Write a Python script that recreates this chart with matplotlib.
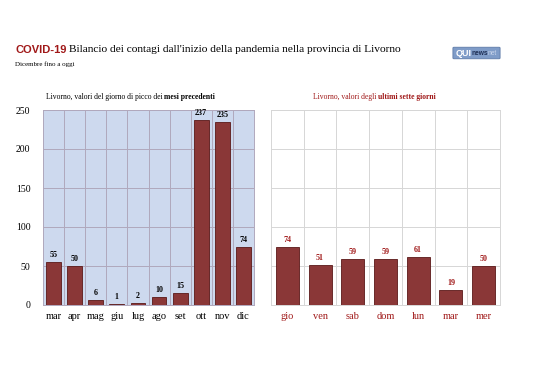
import matplotlib.pyplot as plt
from matplotlib.patches import FancyBboxPatch

# --- data ---
mesi = ['mar', 'apr', 'mag', 'giu', 'lug', 'ago', 'set', 'ott', 'nov', 'dic']
picco_mesi = [55, 50, 6, 1, 2, 10, 15, 237, 235, 74]

giorni = ['gio', 'ven', 'sab', 'dom', 'lun', 'mar', 'mer']
ultimi_giorni = [74, 51, 59, 59, 61, 19, 50]

yticks = [0, 50, 100, 150, 200, 250]

BAR = '#8a3737'
EDGE = '#5a1818'
RED = '#a01818'
SERIF = 'Liberation Serif'

fig = plt.figure(figsize=(5.38, 3.8), dpi=100)
fig.patch.set_facecolor('white')

# --- titles ---
fig.text(15 / 538, 1 - 50 / 380, 'COVID-19', color=RED, fontsize=8,
         fontweight='bold', family='Liberation Sans', va='center')
fig.text(69 / 538, 1 - 50 / 380, 'Bilancio dei contagi dall\'inizio della pandemia nella provincia di Livorno',
         fontsize=8.2, family=SERIF, va='center')
fig.text(15 / 538, 1 - 64 / 380, 'Dicembre fino a oggi', fontsize=5, family=SERIF, va='center')

# logo
logo = FancyBboxPatch((454 / 538, 1 - 58 / 380), 45 / 538, 10 / 380,
                      boxstyle='round,pad=0.002', transform=fig.transFigure,
                      facecolor='#7f9cc8', edgecolor='#5d7aa8', lw=0.6)
fig.add_artist(logo)
fig.text(456 / 538, 1 - 53 / 380, 'QUI', color='white', fontsize=6.5, fontweight='bold',
         family='Liberation Sans', va='center')
fig.text(471 / 538, 1 - 53.5 / 380, 'news', color='#1e2f55', fontsize=4.8, fontweight='bold',
         family='Liberation Sans', va='center')
fig.text(488 / 538, 1 - 53.5 / 380, 'net', color='#c8d4ea', fontsize=4.8,
         family='Liberation Sans', va='center')

# panel titles
fig.text(164 / 538, 1 - 97 / 380, 'Livorno, valori del giorno di picco dei ', fontsize=5.5,
         family=SERIF, ha='right', va='center')
fig.text(164 / 538, 1 - 97 / 380, 'mesi precedenti', fontsize=5.5, fontweight='bold',
         family=SERIF, ha='left', va='center')
fig.text(378 / 538, 1 - 97 / 380, 'Livorno, valori degli ', fontsize=5.5, color=RED,
         family=SERIF, ha='right', va='center')
fig.text(378 / 538, 1 - 97 / 380, 'ultimi sette giorni', fontsize=5.5, color=RED,
         fontweight='bold', family=SERIF, ha='left', va='center')


def setup(ax, n, face, gridcol):
    ax.set_facecolor(face)
    ax.set_xlim(-0.5, n - 0.5)
    ax.set_ylim(0, 250)
    ax.set_yticks(yticks)
    for y in yticks[1:]:
        ax.axhline(y, color=gridcol, lw=0.7, zorder=0)
    for i in range(n - 1):
        ax.axvline(i + 0.5, color=gridcol, lw=0.7, zorder=0)
    for s in ax.spines.values():
        s.set_color(gridcol)
        s.set_linewidth(0.7)
    ax.tick_params(axis='x', length=0, pad=5)


# --- left panel ---
ax1 = fig.add_axes([43 / 538, 1 - 305 / 380, 211 / 538, 195 / 380])
setup(ax1, len(mesi), '#cdd9ee', '#b0a8bc')
ax1.bar(range(len(mesi)), picco_mesi, width=0.7, color=BAR, edgecolor=EDGE, lw=0.6, zorder=2)
ax1.set_xticks(range(len(mesi)))
ax1.set_xticklabels(mesi, family=SERIF, fontsize=7.5)
ax1.tick_params(axis='y', length=0, labelsize=7, pad=9)
for lbl in ax1.get_yticklabels():
    lbl.set_family(SERIF)
for i, v in enumerate(picco_mesi):
    ax1.text(i, v + 4, str(v), ha='center', va='bottom', fontsize=5.8,
             fontweight='bold', family=SERIF)

# --- right panel ---
ax2 = fig.add_axes([271 / 538, 1 - 305 / 380, 229 / 538, 195 / 380])
setup(ax2, len(giorni), 'white', '#d6d6d6')
ax2.bar(range(len(giorni)), ultimi_giorni, width=0.7, color=BAR, edgecolor=EDGE, lw=0.6, zorder=2)
ax2.set_xticks(range(len(giorni)))
ax2.set_xticklabels(giorni, family=SERIF, fontsize=7.5, color=RED)
ax2.tick_params(axis='y', length=0, labelleft=False)
for i, v in enumerate(ultimi_giorni):
    ax2.text(i, v + 4, str(v), ha='center', va='bottom', fontsize=5.8,
             fontweight='bold', family=SERIF, color=RED)

fig.savefig('out.png', dpi=100)
